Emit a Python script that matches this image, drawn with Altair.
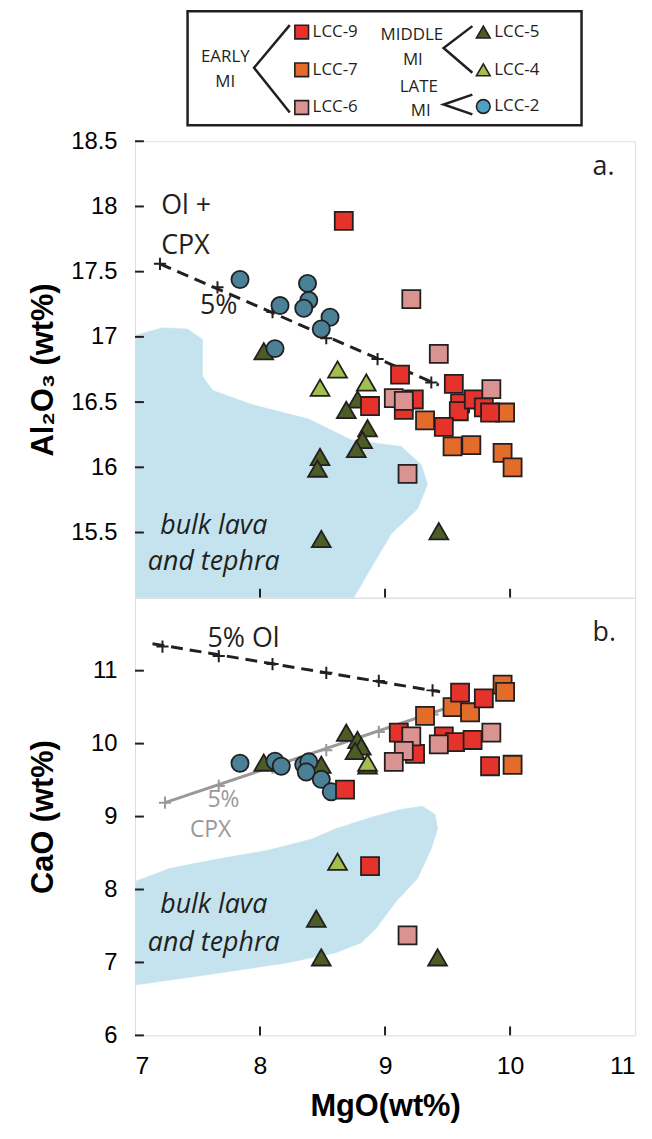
import altair as alt
import pandas as pd

# ---------------- measured compositions (wt%) ----------------
# Panel a: Al2O3 vs MgO
A_LCC9_MGO = [8.67, 8.88, 9.12, 9.23, 9.15, 9.55, 9.60, 9.59, 9.71, 9.79, 9.84, 9.47]
A_LCC9_VAL = [17.89, 16.47, 16.71, 16.52, 16.44, 16.64, 16.49, 16.43, 16.52, 16.46, 16.42, 16.31]
A_LCC7_MGO = [9.32, 9.96, 9.54, 9.69, 9.94, 10.02]
A_LCC7_VAL = [16.36, 16.42, 16.16, 16.17, 16.11, 16.00]
A_LCC6_MGO = [9.21, 9.43, 9.85, 9.07, 9.15, 9.18]
A_LCC6_VAL = [17.29, 16.87, 16.60, 16.53, 16.51, 15.95]
A_LCC5_MGO = [8.03, 8.78, 8.69, 8.86, 8.82, 8.77, 8.48, 8.46, 8.49, 9.43]
A_LCC5_VAL = [16.89, 16.52, 16.44, 16.30, 16.21, 16.14, 16.08, 15.99, 15.45, 15.51]
A_LCC4_MGO = [8.62, 8.48, 8.85]
A_LCC4_VAL = [16.75, 16.61, 16.65]
A_LCC2_MGO = [7.84, 8.16, 8.38, 8.39, 8.35, 8.56, 8.49, 8.12]
A_LCC2_VAL = [17.44, 17.24, 17.41, 17.28, 17.22, 17.15, 17.06, 16.91]

# Panel b: CaO vs MgO
B_LCC9_MGO = [9.11, 9.24, 9.47, 9.56, 9.70, 9.60, 9.79, 9.84, 8.68, 8.88]
B_LCC9_VAL = [10.15, 9.86, 10.10, 10.02, 10.05, 10.70, 10.62, 9.69, 9.37, 8.32]
B_LCC7_MGO = [9.32, 9.54, 9.68, 9.94, 9.96, 10.02]
B_LCC7_VAL = [10.38, 10.50, 10.43, 10.81, 10.71, 9.71]
B_LCC6_MGO = [9.21, 9.15, 9.07, 9.43, 9.85, 9.18]
B_LCC6_VAL = [10.10, 9.90, 9.75, 9.99, 10.15, 7.37]
B_LCC5_MGO = [8.03, 8.49, 8.69, 8.78, 8.81, 8.76, 8.86, 8.45, 8.49, 9.42]
B_LCC5_VAL = [9.74, 9.71, 10.15, 10.05, 9.96, 9.90, 9.70, 7.60, 7.07, 7.07]
B_LCC4_MGO = [8.86, 8.62]
B_LCC4_VAL = [9.74, 8.38]
B_LCC2_MGO = [7.84, 8.12, 8.17, 8.35, 8.39, 8.37, 8.49, 8.57]
B_LCC2_VAL = [9.73, 9.76, 9.69, 9.71, 9.75, 9.61, 9.51, 9.34]

# ---------------- fractionation vectors ----------------
OLCPX_LINE_MGO = [7.20, 9.43]
OLCPX_LINE_AL = [17.56, 16.63]
OLCPX_TICK_MGO = [7.20, 7.66, 8.10, 8.53, 8.94, 9.37]
OLCPX_TICK_AL = [17.56, 17.38, 17.19, 16.99, 16.83, 16.65]

OL_LINE_MGO = [7.14, 9.44]
OL_LINE_CAO = [11.37, 10.71]
OL_TICK_MGO = [7.22, 7.67, 8.10, 8.53, 8.95, 9.38]
OL_TICK_CAO = [11.33, 11.20, 11.09, 10.97, 10.86, 10.73]

CPX_LINE_MGO = [7.24, 9.60]
CPX_LINE_CAO = [9.19, 10.55]
CPX_TICK_MGO = [7.24, 7.67, 8.10, 8.53, 8.95, 9.38]
CPX_TICK_CAO = [9.19, 9.42, 9.67, 9.91, 10.16, 10.40]

# ---------------- bulk lava and tephra fields ----------------
BULK_A_MGO = [7.00, 7.22, 7.42, 7.54, 7.54, 7.62, 7.94, 8.39, 8.73, 9.13, 9.29, 9.34,
              9.26, 9.05, 8.87, 8.75, 7.00]
BULK_A_AL = [17.01, 17.07, 17.06, 16.98, 16.70, 16.59, 16.48, 16.37, 16.21, 16.16, 16.02, 15.87,
             15.68, 15.49, 15.20, 15.00, 15.00]
BULK_B_MGO = [7.00, 7.28, 7.67, 8.07, 8.41, 8.60, 8.89, 9.13, 9.30, 9.40, 9.42, 9.37,
              9.26, 9.09, 8.93, 8.81, 8.60, 8.20, 7.54, 7.00]
BULK_B_CAO = [8.11, 8.29, 8.42, 8.54, 8.69, 8.83, 8.99, 9.10, 9.14, 9.03, 8.83, 8.56,
              8.15, 7.84, 7.47, 7.27, 7.13, 6.99, 6.82, 6.69]

SAMPLES = ["LCC-9", "LCC-7", "LCC-6", "LCC-5", "LCC-4", "LCC-2"]
GROUPS = ["EARLY MI", "EARLY MI", "EARLY MI", "MIDDLE MI", "MIDDLE MI", "LATE MI"]
FILLS = ["#e5322b", "#e46c2b", "#d99391", "#4b5d24", "#a2bf4e", "#4a8196"]
SHAPES = ["square", "square", "square", "triangle-up", "triangle-up", "circle"]
SIZES = [330, 330, 330, 360, 360, 300]

INK = "#231f20"
GREY = "#9b9898"
FIELD_BLUE = "#c4e3ee"
FONT = "Open Sans"

X_DOMAIN = [7, 11]
X_TICKS = [7, 8, 9, 10, 11]
PANEL_W = 504


def points_frame(pairs):
    rows = []
    for name, (mgo, val) in zip(SAMPLES, pairs):
        for m, v in zip(mgo, val):
            rows.append({"sample": name, "MgO": m, "val": v})
    return pd.DataFrame(rows)


def ticks_frame(mgo, val):
    return pd.DataFrame({"MgO": mgo, "val": val})


def panel(pts, bulk, vectors, notes, ydomain, yticks, ytitle, height, bottom):
    xs = alt.Scale(domain=X_DOMAIN, nice=False, zero=False)
    ys = alt.Scale(domain=ydomain, nice=False, zero=False)
    if bottom:
        xaxis = alt.Axis(values=X_TICKS, format="~g", ticks=False, domain=False, grid=False,
                         labelPadding=18, labelFontSize=25, title="MgO(wt%)",
                         titleFontSize=31, titleFontWeight="bold", titlePadding=14)
    else:
        xaxis = None
    yaxis = alt.Axis(values=yticks, format="~g", ticks=False, domain=False, grid=False,
                     labelPadding=18, labelFontSize=24, title=ytitle,
                     titleFontSize=31, titleFontWeight="bold",
                     titleX=-92, titleY=height / 2, titleBaseline="middle")
    X = alt.X("MgO:Q", scale=xs, axis=xaxis)
    Y = alt.Y("val:Q", scale=ys, axis=yaxis)
    Xn = alt.X("MgO:Q", scale=xs)
    Yn = alt.Y("val:Q", scale=ys)

    layers = []
    # field of bulk rock compositions
    bdf = pd.DataFrame({"MgO": bulk[0], "val": bulk[1], "k": range(len(bulk[0]))})
    layers.append(alt.Chart(bdf).mark_line(fill=FIELD_BLUE, stroke=FIELD_BLUE,
                                           strokeWidth=0.5, clip=True)
                  .encode(x=X, y=Y, order="k:Q"))
    # fractionation vectors
    for line, tick, color, dash in vectors:
        ldf = ticks_frame(*line)
        tdf = ticks_frame(*tick)
        lm = alt.Chart(ldf).mark_line(color=color, strokeWidth=3, strokeCap="butt",
                                      **({"strokeDash": dash} if dash else {}))
        layers.append(lm.encode(x=Xn, y=Yn))
        layers.append(alt.Chart(tdf).mark_point(shape="M-1,0L1,0M0,-1L0,1", size=150,
                                                filled=False, stroke=color, strokeWidth=2,
                                                opacity=1)
                      .encode(x=Xn, y=Yn))
    # samples
    order = [3, 4, 5, 1, 0, 2]
    for i in order:
        sub = pts[pts["sample"] == SAMPLES[i]]
        layers.append(alt.Chart(sub).mark_point(shape=SHAPES[i], size=SIZES[i], filled=True,
                                                fill=FILLS[i], stroke=INK, strokeWidth=1.8,
                                                opacity=1)
                      .encode(x=Xn, y=Yn))
    # annotations
    for txt, m, v, align, color, style, fs in notes:
        ndf = pd.DataFrame({"MgO": [m], "val": [v], "t": [txt]})
        layers.append(alt.Chart(ndf).mark_text(align=align, baseline="middle", font=FONT,
                                               fontSize=fs, fontStyle=style, color=color)
                      .encode(x=Xn, y=Yn, text="t:N"))
    # inward ticks
    ytk = pd.DataFrame({"val": yticks})
    layers.append(alt.Chart(ytk).mark_rule(color=INK, strokeWidth=2)
                  .encode(y=Yn, x=alt.value(0), x2=alt.value(9)))
    xtk = pd.DataFrame({"MgO": [8, 9, 10]})
    layers.append(alt.Chart(xtk).mark_rule(color=INK, strokeWidth=2)
                  .encode(x=Xn, y=alt.value(height), y2=alt.value(height - 9)))

    return alt.layer(*layers).properties(width=PANEL_W, height=height)


pts_a = points_frame([(A_LCC9_MGO, A_LCC9_VAL), (A_LCC7_MGO, A_LCC7_VAL), (A_LCC6_MGO, A_LCC6_VAL),
                      (A_LCC5_MGO, A_LCC5_VAL), (A_LCC4_MGO, A_LCC4_VAL), (A_LCC2_MGO, A_LCC2_VAL)])
pts_b = points_frame([(B_LCC9_MGO, B_LCC9_VAL), (B_LCC7_MGO, B_LCC7_VAL), (B_LCC6_MGO, B_LCC6_VAL),
                      (B_LCC5_MGO, B_LCC5_VAL), (B_LCC4_MGO, B_LCC4_VAL), (B_LCC2_MGO, B_LCC2_VAL)])

notes_a = [
    ("Ol +", 7.21, 18.00, "left", INK, "normal", 27),
    ("CPX", 7.21, 17.70, "left", INK, "normal", 27),
    ("5%", 7.52, 17.24, "left", INK, "normal", 27),
    ("a.", 10.66, 18.30, "left", INK, "normal", 27),
    ("bulk lava", 7.63, 15.55, "center", INK, "italic", 27),
    ("and tephra", 7.63, 15.27, "center", INK, "italic", 27),
]
notes_b = [
    ("5% Ol", 7.58, 11.44, "left", INK, "normal", 27),
    ("5%", 7.58, 9.22, "left", GREY, "normal", 23),
    ("CPX", 7.44, 8.81, "left", GREY, "normal", 23),
    ("b.", 10.66, 11.52, "left", INK, "normal", 27),
    ("bulk lava", 7.63, 7.78, "center", INK, "italic", 27),
    ("and tephra", 7.63, 7.27, "center", INK, "italic", 27),
]

top = panel(pts_a, (BULK_A_MGO, BULK_A_AL),
            [((OLCPX_LINE_MGO, OLCPX_LINE_AL), (OLCPX_TICK_MGO, OLCPX_TICK_AL), INK, [12, 7])],
            notes_a, [15, 18.5], [15.5, 16, 16.5, 17, 17.5, 18, 18.5],
            "Al₂O₃ (wt%)", 460, False)
bottom = panel(pts_b, (BULK_B_MGO, BULK_B_CAO),
               [((OL_LINE_MGO, OL_LINE_CAO), (OL_TICK_MGO, OL_TICK_CAO), INK, [12, 7]),
                ((CPX_LINE_MGO, CPX_LINE_CAO), (CPX_TICK_MGO, CPX_TICK_CAO), GREY, None)],
               notes_b, [6, 12], [6, 7, 8, 9, 10, 11],
               "CaO (wt%)", 441, True)

# ---------------- grouped key (legend panel, local pixel layout) ----------------
LEG_H = 137
lx = alt.Scale(domain=[0, PANEL_W], nice=False, zero=False)
ly = alt.Scale(domain=[0, LEG_H], nice=False, zero=False, reverse=True)

key_box = pd.DataFrame({"x": [53], "x2": [450], "y": [6], "y2": [121]})
key_arms = pd.DataFrame({
    "g": ["e", "e", "e", "m", "m", "m", "l", "l", "l"],
    "k": [0, 1, 2, 0, 1, 2, 0, 1, 2],
    "x": [156, 120, 156, 340, 311, 340, 340, 311, 340],
    "y": [20, 63, 108, 21, 43, 68, 90, 100, 110],
})
key_syms = pd.DataFrame({
    "sample": SAMPLES,
    "x": [168, 168, 168, 351, 351, 351],
    "y": [27, 65, 103, 27, 65, 102],
})
key_group_text = pd.DataFrame({
    "t": ["EARLY", "MI", "MIDDLE", "MI", "LATE", "MI"],
    "x": [91, 91, 279, 280, 286, 288],
    "y": [52, 77, 30, 55, 82, 107],
})

kx = alt.X("x:Q", scale=lx, axis=None)
ky = alt.Y("y:Q", scale=ly, axis=None)
key_layers = [
    alt.Chart(key_box).mark_rect(fill="white", stroke=INK, strokeWidth=2.5)
    .encode(x=kx, x2="x2:Q", y=ky, y2="y2:Q"),
    alt.Chart(key_arms).mark_line(color=INK, strokeWidth=2.5)
    .encode(x=kx, y=ky, detail="g:N", order="k:Q"),
    alt.Chart(key_group_text).mark_text(font=FONT, fontSize=17, color=INK, baseline="middle")
    .encode(x=kx, y=ky, text="t:N"),
]
for i, s in enumerate(SAMPLES):
    sub = key_syms[key_syms["sample"] == s]
    key_fill = "#4aa3c6" if s == "LCC-2" else FILLS[i]
    key_layers.append(alt.Chart(sub).mark_point(shape=SHAPES[i], size=190, filled=True,
                                                fill=key_fill, stroke=INK, strokeWidth=1.6,
                                                opacity=1)
                      .encode(x=kx, y=ky))
    key_layers.append(alt.Chart(sub).mark_text(font=FONT, fontSize=17, color=INK, align="left",
                                               baseline="middle", dx=11)
                      .encode(x=kx, y=ky, text="sample:N"))

key = alt.layer(*key_layers).properties(width=PANEL_W, height=LEG_H,
                                        view=alt.ViewBackground(stroke="transparent"))

chart = alt.vconcat(key, top, bottom, spacing=0, bounds="flush").properties(
    padding={"left": 27, "top": 0, "right": 16, "bottom": 0}
).configure_view(stroke=INK, strokeWidth=2).configure_axis(
    labelFont=FONT, titleFont=FONT, labelColor=INK, titleColor=INK
).configure(background="white")

chart.save("out.html", embed_options={"renderer": "svg", "actions": False})
